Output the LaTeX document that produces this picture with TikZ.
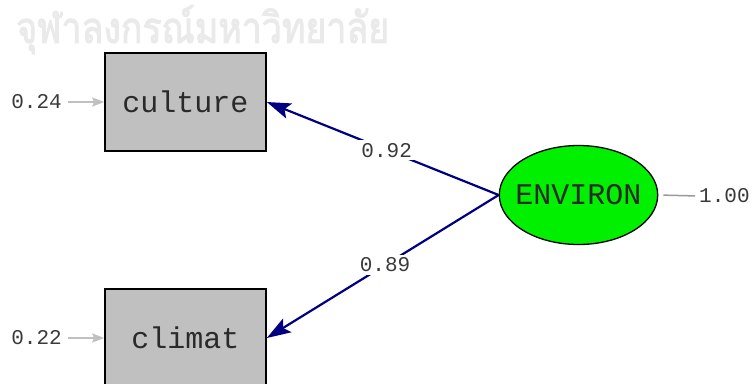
\documentclass[tikz,border=0pt]{standalone}
\usepackage{fontspec}
\setmonofont{Liberation Mono}
\newfontfamily\thaifont[Script=Thai,FakeBold=2.5]{Loma}
\usetikzlibrary{shapes.geometric,arrows.meta}
\definecolor{pathnavy}{HTML}{000080}
\definecolor{boxgray}{HTML}{C0C0C0}
\definecolor{latentgreen}{HTML}{00F000}
\definecolor{errgray}{HTML}{C0C0C0}
\definecolor{numtext}{HTML}{3A3A3A}
\definecolor{labeltext}{HTML}{2A2A2A}
\definecolor{watermark}{HTML}{EAEAEA}
\begin{document}
\begin{tikzpicture}[x=1pt,y=-1pt,
  observed/.style={rectangle,draw=black,line width=1.6pt,fill=boxgray,
    minimum width=161pt,minimum height=98pt,inner sep=0pt,
    font=\ttfamily\fontsize{30}{30}\selectfont,text=labeltext},
  latent/.style={ellipse,draw=black,line width=1.3pt,fill=latentgreen,
    minimum width=157pt,minimum height=99pt,inner xsep=-7pt,inner ysep=0pt,
    font=\ttfamily\fontsize{30}{30}\selectfont,text=labeltext},
  coef/.style={font=\ttfamily\fontsize{21}{21}\selectfont,text=numtext,inner sep=1pt},
  loading/.style={draw=pathnavy,line width=2.2pt,
    -{Stealth[length=24pt,width=16pt,inset=5pt]}},
  errarrow/.style={draw=errgray,line width=2pt,shorten <=5pt,
    -{Stealth[length=12pt,width=9pt,inset=2pt]}},
  errline/.style={draw=errgray!80!black,line width=1.5pt,shorten <=5pt,shorten >=3pt},
]
\clip (0,0) rectangle (754,383);
\fill[white] (0,0) rectangle (754,383);

% faint university watermark
\node[anchor=north west,inner sep=0pt,text=watermark,
  font=\thaifont\fontsize{43}{43}\selectfont] (wm) at (16,5)
  {\scalebox{0.83}[1]{จุฬาลงกรณ์มหาวิทยาลัย}};

% observed variables and the latent factor
\node[observed] (culture) at (185.5,102) {culture};
\node[observed] (climat)  at (185.5,338) {climat};
\node[latent]   (environ) at (578.5,195) {ENVIRON};

% error variances
\node[coef,anchor=east] (e1) at (63,102) {0.24};
\node[coef,anchor=east] (e2) at (63,338) {0.22};
\node[coef,anchor=west] (ev) at (698,196) {1.00};
\draw[errarrow] (e1.east) -- (culture.west);
\draw[errarrow] (e2.east) -- (climat.west);
\draw[errline] (environ.east) -- (ev.west);

% factor loadings
\draw[loading] (environ.west) -- node[pos=0.483,coef,fill=white,inner sep=3pt] {0.92} (culture.east);
\draw[loading] (environ.west) -- node[pos=0.49,coef,fill=white,inner sep=3pt] {0.89} (climat.east);
\end{tikzpicture}
\end{document}
